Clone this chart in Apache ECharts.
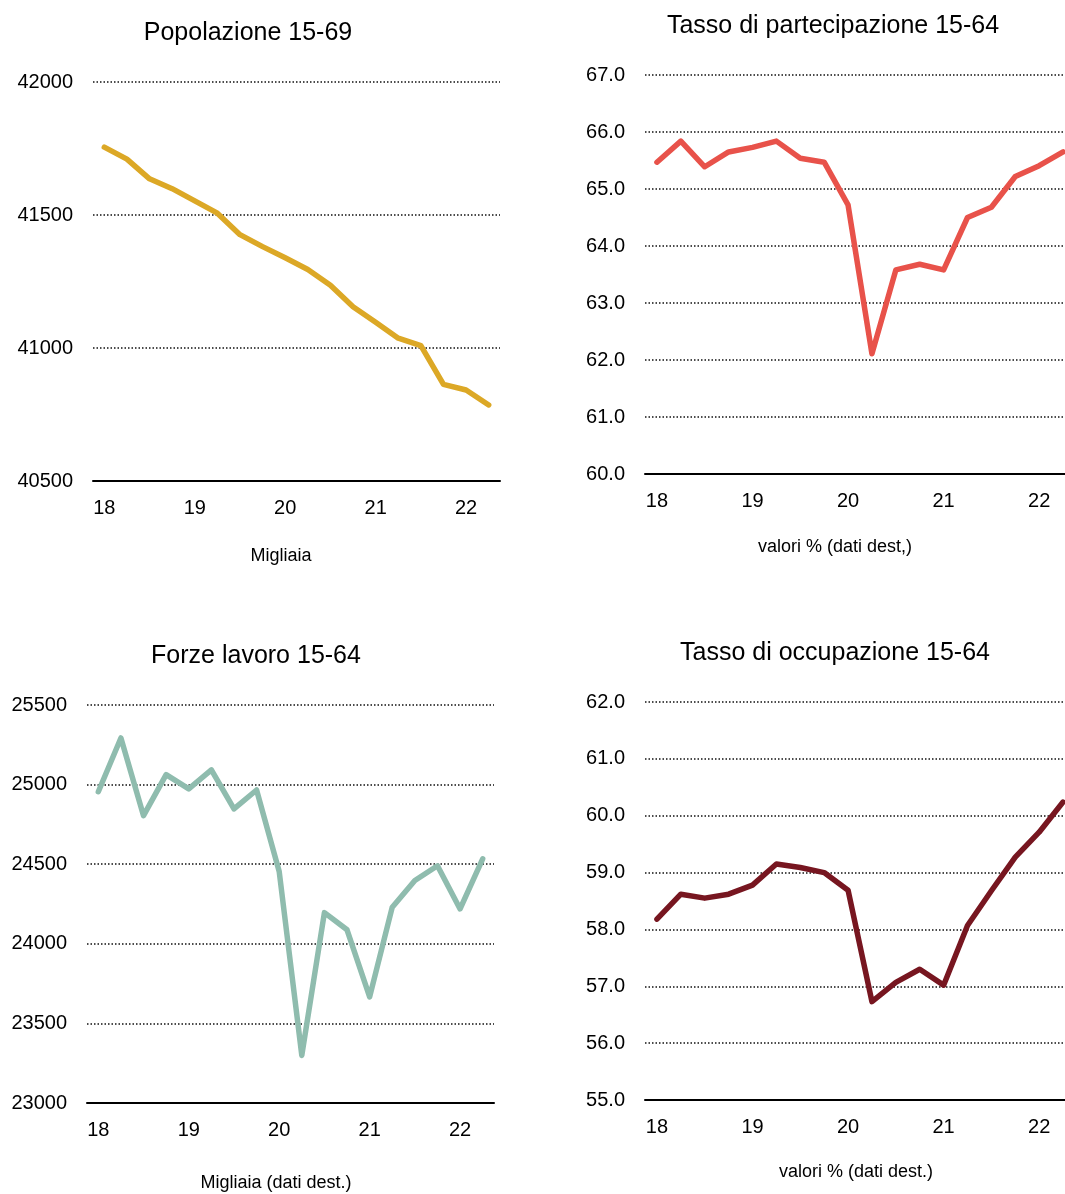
<!DOCTYPE html>
<html>
<head>
<meta charset="utf-8">
<script src="https://cdn.jsdelivr.net/npm/echarts@6/dist/echarts.min.js"></script>
<style>
  html, body { margin: 0; padding: 0; background: #ffffff; }
  #chart { width: 1065px; height: 1194px; }
</style>
</head>
<body>
<div id="chart"></div>
<script>
// Quarters 2018Q1 .. 2022Q2
const quarters = ['18Q1','18Q2','18Q3','18Q4','19Q1','19Q2','19Q3','19Q4','20Q1','20Q2','20Q3','20Q4','21Q1','21Q2','21Q3','21Q4','22Q1','22Q2'];
const yearTicks = ['18','19','20','21','22'];

// Popolazione 15-69 (migliaia)
const popolazione = [41755,41710,41636,41599,41553,41507,41426,41381,41339,41295,41236,41155,41097,41037,41009,40863,40842,40786];
// Tasso di partecipazione 15-64 (%)
const partecipazione = [65.47,65.84,65.39,65.65,65.73,65.84,65.54,65.47,64.72,62.11,63.58,63.68,63.58,64.50,64.68,65.22,65.41,65.65];
// Forze lavoro 15-64 (migliaia)
const forzeLavoro = [24955,25293,24805,25063,24973,25093,24847,24966,24454,23299,24196,24088,23667,24230,24398,24490,24219,24534];
// Tasso di occupazione 15-64 (%)
const occupazione = [58.18,58.62,58.55,58.62,58.78,59.15,59.09,59.00,58.69,56.73,57.07,57.30,57.02,58.07,58.68,59.27,59.71,60.24];

const titles = ['Popolazione 15-69','Tasso di partecipazione 15-64','Forze lavoro 15-64','Tasso di occupazione 15-64'];
const subtitles = ['Migliaia','valori % (dati dest,)','Migliaia (dati dest.)','valori % (dati dest.)'];

const FONT = '"Liberation Sans", Arial, Helvetica, sans-serif';

const grids = [
  {left: 93,  top: 82,  width: 407, height: 399},
  {left: 645, top: 75,  width: 430, height: 399},
  {left: 87,  top: 705, width: 407, height: 398},
  {left: 645, top: 702, width: 430, height: 398}
];
const yRanges = [
  {min: 40500, max: 42000, interval: 500, dec: 0},
  {min: 60, max: 67, interval: 1, dec: 1},
  {min: 23000, max: 25500, interval: 500, dec: 0},
  {min: 55, max: 62, interval: 1, dec: 1}
];
const seriesData = [popolazione, partecipazione, forzeLavoro, occupazione];
const colors = ['#DCA826', '#E8524A', '#8FBCAE', '#771620'];
const titlePos = [[248, 33], [833, 26], [256, 656], [835, 653]];
const subPos = [[281, 556], [835, 547], [276, 1183], [856, 1172]];

const option = {
  backgroundColor: '#ffffff',
  animation: false,
  grid: grids.map(g => Object.assign({containLabel: false, outerBoundsMode: 'none'}, g)),
  xAxis: grids.map((g, i) => ({
    type: 'category',
    gridIndex: i,
    data: quarters,
    boundaryGap: true,
    axisLine: {show: true, lineStyle: {color: '#000', width: 2}},
    axisTick: {show: false},
    axisLabel: {
      interval: 3,
      margin: 17,
      fontSize: 20,
      fontFamily: FONT,
      color: '#000',
      formatter: function (v) {
        const y = v.slice(0, 2);
        return yearTicks.indexOf(y) >= 0 && v.slice(2) === 'Q1' ? y : '';
      }
    },
    splitLine: {show: false}
  })),
  yAxis: yRanges.map((r, i) => ({
    type: 'value',
    gridIndex: i,
    min: r.min,
    max: r.max,
    interval: r.interval,
    axisLine: {show: false},
    axisTick: {show: false},
    axisLabel: {
      margin: 20,
      fontSize: 20,
      fontFamily: FONT,
      color: '#000',
      formatter: function (v) { return v.toFixed(r.dec); }
    },
    splitLine: {show: true, lineStyle: {color: '#111', width: 1.5, type: [1.5, 2]}}
  })),
  series: seriesData.map((d, i) => ({
    type: 'line',
    xAxisIndex: i,
    yAxisIndex: i,
    data: d,
    symbol: 'none',
    smooth: false,
    lineStyle: {color: colors[i], width: 5.5, cap: 'round', join: 'round'},
    itemStyle: {color: colors[i]},
    z: 3
  })),
  graphic: titles.map((t, i) => ({
    type: 'text',
    x: titlePos[i][0],
    y: titlePos[i][1],
    style: {
      text: t,
      font: '25px ' + FONT,
      fill: '#000',
      textAlign: 'center',
      textVerticalAlign: 'middle'
    }
  })).concat(subtitles.map((t, i) => ({
    type: 'text',
    x: subPos[i][0],
    y: subPos[i][1],
    style: {
      text: t,
      font: '18px ' + FONT,
      fill: '#000',
      textAlign: 'center',
      textVerticalAlign: 'middle'
    }
  })))
};

const chart = echarts.init(document.getElementById('chart'), null, {renderer: 'canvas'});
chart.setOption(option);
</script>
</body>
</html>
